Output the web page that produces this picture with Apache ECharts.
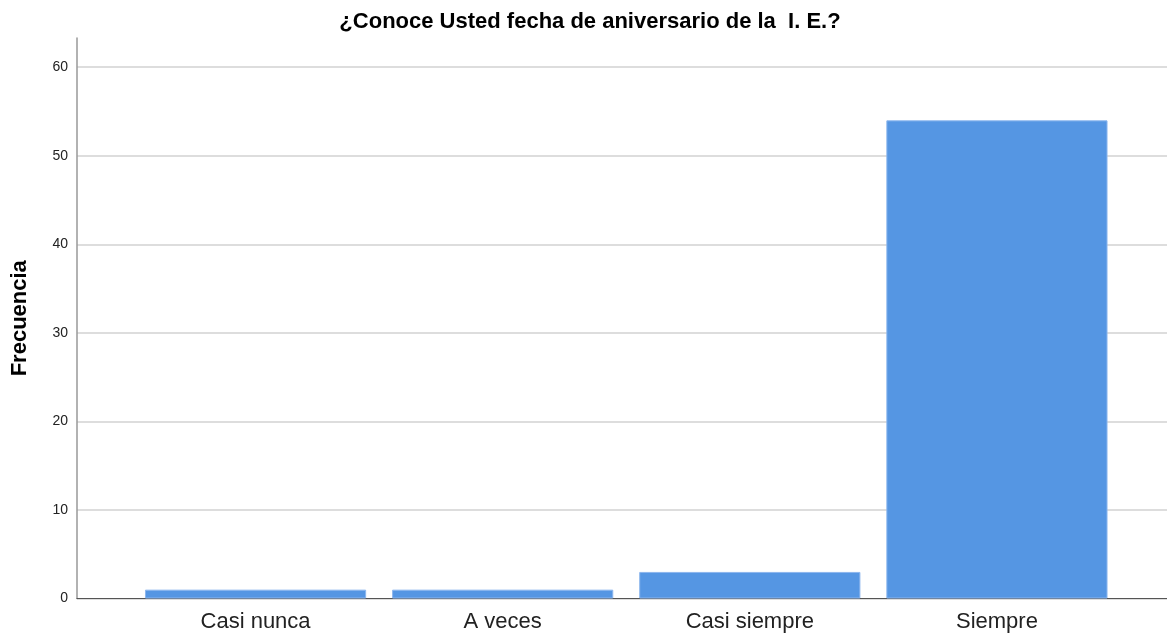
<!DOCTYPE html>
<html>
<head>
<meta charset="utf-8">
<script src="https://cdn.jsdelivr.net/npm/echarts@6/dist/echarts.min.js"></script>
<style>
  html, body { margin: 0; padding: 0; background: #ffffff; }
  #chart { width: 1167px; height: 634px; }
</style>
</head>
<body>
<div id="chart"></div>
<script>
// Frequencies per answer
const categories = ['Casi nunca', 'A veces', 'Casi siempre', 'Siempre'];
const frecuencia = [1, 1, 3, 54];
const yTicks = [0, 10, 20, 30, 40, 50, 60];

const chartTitle = '¿Conoce Usted fecha de aniversario de la  I. E.?';
const yName = 'Frecuencia';

const Y_MAX = 63.3;
const font = 'Arial, "Liberation Sans", sans-serif';

const chart = echarts.init(document.getElementById('chart'), null, { renderer: 'canvas' });

chart.setOption({
  backgroundColor: '#ffffff',
  animation: false,
  title: {
    text: chartTitle,
    left: 585,
    textAlign: 'center',
    top: 6,
    textStyle: { fontFamily: font, fontSize: 22, fontWeight: 'bold', color: '#000' }
  },
  grid: [
    // frame: y axis, gridlines and baseline
    { left: 77, right: 0, top: 38, bottom: 35.5, outerBoundsMode: 'none', containLabel: false },
    // bars
    { left: 132, right: 46.5, top: 38, bottom: 35.5, outerBoundsMode: 'none', containLabel: false }
  ],
  xAxis: [
    {
      gridIndex: 0, type: 'value', min: 0, max: 1,
      axisLine: { show: true, onZero: false, lineStyle: { color: '#555', width: 1.2 } },
      axisTick: { show: false }, axisLabel: { show: false }, splitLine: { show: false }
    },
    {
      gridIndex: 1, type: 'category', data: categories,
      axisLine: { show: false }, axisTick: { show: false },
      axisLabel: { margin: 12, fontFamily: font, fontSize: 22, color: '#222' }
    }
  ],
  yAxis: [
    {
      gridIndex: 0, type: 'value', min: 0, max: Y_MAX, interval: 10,
      name: yName, nameLocation: 'middle', nameGap: 46, nameRotate: 90,
      nameTextStyle: { fontFamily: font, fontSize: 22, fontWeight: 'bold', color: '#000' },
      axisLine: { show: true, lineStyle: { color: '#999', width: 1.5 } },
      axisTick: { show: false },
      axisLabel: {
        margin: 9, fontFamily: font, fontSize: 14, color: '#222',
        formatter: v => (yTicks.includes(v) ? String(v) : '')
      },
      splitLine: { show: true, showMinLine: true, showMaxLine: false, lineStyle: { color: '#d2d2d2', width: 1.5 } }
    },
    {
      gridIndex: 1, type: 'value', min: 0, max: Y_MAX, interval: 10,
      axisLine: { show: false }, axisTick: { show: false },
      axisLabel: { show: false }, splitLine: { show: false }
    }
  ],
  series: [{
    type: 'bar',
    xAxisIndex: 1, yAxisIndex: 1,
    data: frecuencia,
    barWidth: '89.5%',
    itemStyle: { color: '#5596e3', borderColor: '#8cb6ee', borderWidth: 1 },
    z: 1
  }]
});
</script>
</body>
</html>
